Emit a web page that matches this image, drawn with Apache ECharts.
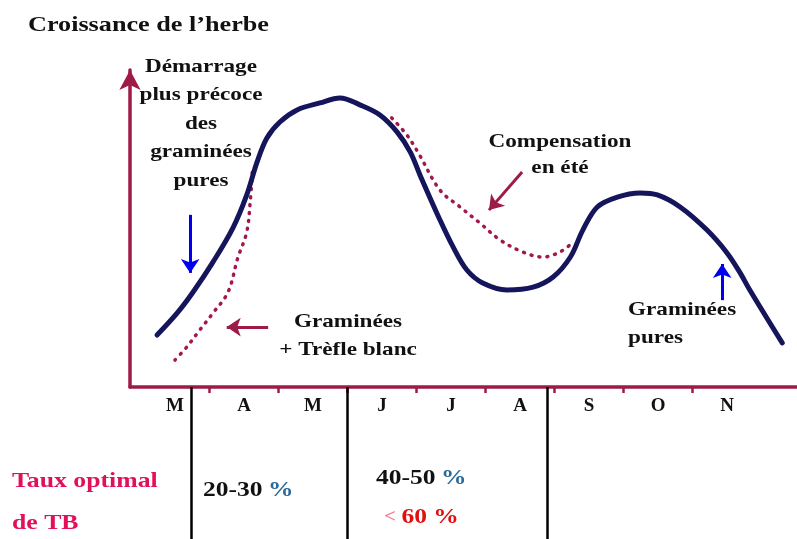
<!DOCTYPE html>
<html>
<head>
<meta charset="utf-8">
<script src="https://cdn.jsdelivr.net/npm/echarts@6/dist/echarts.min.js"></script>
<style>
  html, body { margin: 0; padding: 0; background: #fff; }
  #chart { width: 797px; height: 539px; }
</style>
</head>
<body>
<div id="chart"></div>
<script>
// mois sur l'axe x (1 unité = 1 mois, limites de mois aux entiers)
const months = ['M', 'A', 'M', 'J', 'J', 'A', 'S', 'O', 'N']
const monthCenters = [0.5, 1.5, 2.5, 3.5, 4.5, 5.5, 6.5, 7.5, 8.5]
const monthBounds = [1, 2, 3, 4, 5, 6, 7, 8]

// croissance des graminées pures (trait plein)
const grassPure = [
  [0.24, 16.4], [0.53, 23.3], [0.76, 29.9], [1.05, 39.4], [1.34, 50.2],
  [1.54, 60.6], [1.69, 71.0], [1.83, 78.5], [2.02, 83.6], [2.27, 87.4],
  [2.60, 89.6], [2.89, 91.2], [3.18, 89.0], [3.47, 85.8], [3.72, 80.4],
  [3.91, 74.1], [4.05, 66.9], [4.34, 52.7], [4.53, 44.2], [4.73, 36.9],
  [4.96, 32.8], [5.31, 30.6], [5.69, 31.5], [5.98, 34.7], [6.23, 41.0],
  [6.41, 49.5], [6.62, 56.8], [6.91, 59.9], [7.24, 61.2], [7.49, 60.6],
  [7.82, 56.8], [8.21, 49.5], [8.50, 42.3], [8.69, 36.0], [8.83, 30.6],
  [9.30, 13.9]
]

// graminées + trèfle blanc (pointillés) : printemps puis été
const mixSpring = [
  [0.50, 8.5], [0.67, 12.6], [0.86, 18.0], [1.05, 23.3], [1.27, 30.0],
  [1.41, 40.7], [1.54, 48.9], [1.59, 58.4], [1.62, 67.8]
]
const mixSummer = [
  [3.64, 84.9], [3.86, 79.5], [4.02, 74.1], [4.34, 62.1], [4.63, 56.8],
  [4.92, 51.7], [5.21, 46.4], [5.54, 42.6], [5.83, 41.0], [6.08, 42.6],
  [6.27, 45.7]
]

// séparateurs du tableau sous l'axe
const dividers = [0.73, 3.0, 5.89]

// flèches d'annotation : [départ, pointe, couleur]
const arrows = [
  [[0.72, 54.3], [0.72, 36.0], '#0000ee'],
  [[8.43, 27.4], [8.43, 38.8], '#0000ee'],
  [[1.85, 18.9], [1.25, 18.9], '#9e1a47'],
  [[5.53, 67.8], [5.05, 55.8], '#9e1a47']
]

const axisRed = '#9e1a47'
const serif = '"Liberation Serif", "Times New Roman", serif'
const bold = (size) => 'bold ' + size + 'px ' + serif

// texte gras étiré horizontalement comme dans l'image d'origine
function note(text, x, y, opts) {
  const o = opts || {}
  return {
    type: 'text',
    x: x,
    y: y,
    scaleX: o.scaleX || 1.22,
    style: {
      text: text,
      x: 0,
      y: 0,
      align: o.align || 'center',
      verticalAlign: 'middle',
      lineHeight: o.lineHeight || 28,
      font: bold(o.size || 19),
      fill: o.color || '#111',
      rich: o.rich
    }
  }
}

const chart = echarts.init(document.getElementById('chart'))

chart.setOption({
  animation: false,
  grid: { left: 130, right: 0, top: 70, bottom: 152 },
  xAxis: {
    type: 'value',
    min: -0.152,
    max: 9.514,
    splitLine: { show: false },
    axisLine: { lineStyle: { color: axisRed, width: 3.5 } },
    axisTick: {
      show: true,
      customValues: monthBounds,
      length: 6,
      lineStyle: { color: axisRed, width: 2.5 }
    },
    axisLabel: {
      customValues: monthCenters,
      formatter: (v) => months[Math.floor(v)],
      margin: 10,
      fontFamily: serif,
      fontWeight: 'bold',
      fontSize: 19,
      color: '#111'
    }
  },
  yAxis: {
    type: 'value',
    min: 0,
    max: 100,
    splitLine: { show: false },
    axisTick: { show: false },
    axisLabel: { show: false },
    axisLine: {
      show: true,
      onZero: false,
      symbol: ['none', 'arrow'],
      symbolSize: [16, 20],
      lineStyle: { color: axisRed, width: 3.5 }
    }
  },
  series: [
    {
      type: 'line',
      data: mixSpring,
      smooth: 0.35,
      showSymbol: false,
      lineStyle: { color: '#a3174f', width: 3.5, type: [1, 7], cap: 'round' },
      z: 2
    },
    {
      type: 'line',
      data: mixSummer,
      smooth: 0.35,
      showSymbol: false,
      lineStyle: { color: '#a3174f', width: 3.5, type: [1, 7], cap: 'round' },
      z: 2
    },
    {
      type: 'line',
      data: grassPure,
      smooth: 0.35,
      showSymbol: false,
      lineStyle: { color: '#15155c', width: 5, cap: 'round', join: 'round' },
      z: 3
    },
    {
      type: 'lines',
      coordinateSystem: 'cartesian2d',
      clip: false,
      symbol: ['none', 'arrow'],
      symbolSize: 14,
      data: arrows.map((a) => ({
        coords: [a[0], a[1]],
        lineStyle: { color: a[2], width: 3, opacity: 1 }
      })),
      z: 4
    },
    {
      type: 'lines',
      coordinateSystem: 'cartesian2d',
      clip: false,
      symbol: 'none',
      lineStyle: { color: '#000', width: 2.5, opacity: 1 },
      data: dividers.map((x) => ({ coords: [[x, 0], [x, -48]] })),
      z: 1
    }
  ],
  graphic: [
    note('Croissance de l’herbe', 28, 25, { align: 'left', size: 22, scaleX: 1.19 }),
    note('Démarrage\nplus précoce\ndes\ngraminées\npures', 201, 124, { lineHeight: 28.5 }),
    note('Compensation\nen été', 560, 155, { lineHeight: 26 }),
    note('Graminées\n+ Trèfle blanc', 348, 336),
    note('Graminées\npures', 628, 324, { align: 'left' }),
    note('Taux optimal\n\nde TB', 12, 502, { align: 'left', size: 22, lineHeight: 21, scaleX: 1.17, color: '#e0105a' }),
    note('{k|20-30} {p|%}', 203, 490, {
      align: 'left', scaleX: 1.16,
      rich: { k: { font: bold(22), fill: '#111' }, p: { font: bold(22), fill: '#2a6a9a' } }
    }),
    note('{k|40-50} {p|%}', 376, 478, {
      align: 'left', scaleX: 1.16,
      rich: { k: { font: bold(22), fill: '#111' }, p: { font: bold(22), fill: '#2a6a9a' } }
    }),
    note('{l|<} {r|60 %}', 384, 517, {
      align: 'left', scaleX: 1.16,
      rich: { l: { font: bold(18), fill: '#f07a8a' }, r: { font: bold(22), fill: '#e01010' } }
    })
  ]
})
</script>
</body>
</html>
